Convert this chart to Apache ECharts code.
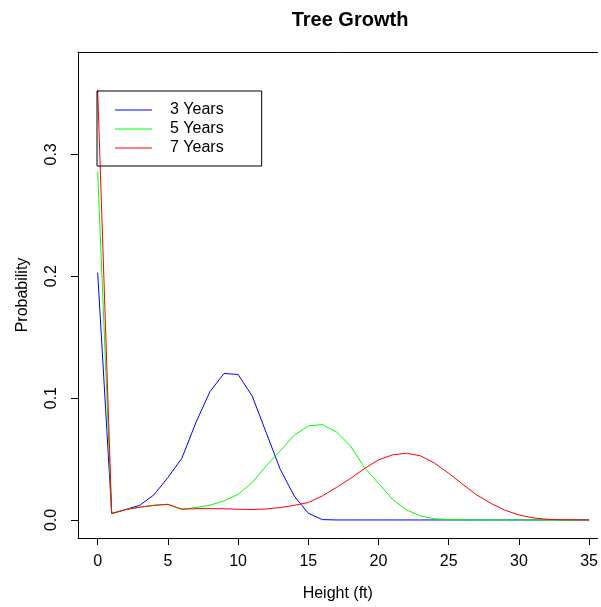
<!DOCTYPE html>
<html>
<head>
<meta charset="utf-8">
<script src="https://cdn.jsdelivr.net/npm/echarts@6/dist/echarts.min.js"></script>
<style>
html,body{margin:0;padding:0;background:#fff;}
#c{width:601px;height:607px;}
</style>
</head>
<body>
<div id="c"></div>
<script>
var heights = [0,1,2,3,4,5,6,7,8,9,10,11,12,13,14,15,16,17,18,19,20,21,22,23,24,25,26,27,28,29,30,31,32,33,34,35];
var years3 = [0.203,0.0053,0.0085,0.0121,0.0205,0.0348,0.0507,0.080,0.1054,0.1202,0.1194,0.1018,0.0718,0.0416,0.0197,0.0055,0.0003,0,0,0,0,0,0,0,0,0,0,0,0,0,0,0,0,0,0,0];
var years5 = [0.286,0.0053,0.0085,0.0105,0.012,0.0128,0.0088,0.0102,0.0121,0.0156,0.021,0.0307,0.0443,0.0567,0.0695,0.0772,0.0783,0.0723,0.0608,0.043,0.0301,0.017,0.0082,0.0033,0.0010,0.0003,0.0001,0,0,0,0,0,0,0,0,0];
var years7 = [0.353,0.0053,0.0085,0.0105,0.012,0.0128,0.0088,0.0093,0.0093,0.0092,0.0088,0.0086,0.009,0.0102,0.012,0.0143,0.0197,0.0266,0.034,0.0422,0.0493,0.0534,0.0548,0.0526,0.0466,0.0383,0.0293,0.0205,0.0137,0.008,0.0041,0.0017,0.0006,0.0002,0.0001,0];
var seriesNames = ['3 Years','5 Years','7 Years'];
var seriesColors = ['#0000FF','#00FF00','#FF0000'];
var xTicks = [0,5,10,15,20,25,30,35];
var yTicks = [0,0.1,0.2,0.3];

function pairs(vals){ return heights.map(function(h,i){ return [h, vals[i]]; }); }

var chart = echarts.init(document.getElementById('c'), null, {renderer:'canvas'});
var font = 'Liberation Sans, Arial, Helvetica, sans-serif';
chart.setOption({
  animation:false,
  backgroundColor:'#fff',
  title:{
    text:'Tree Growth', left:345, top:5, textAlign:'center',
    textStyle:{fontFamily:font, fontSize:20, fontWeight:'bold', color:'#000'}
  },
  legend:{
    orient:'vertical', left:97, top:91,
    data:seriesNames.map(function(n,i){ return {name:n, icon:'rect', itemStyle:{color:seriesColors[i], borderWidth:0}}; }),
    itemWidth:37, itemHeight:1, itemGap:3,
    itemStyle:{borderWidth:0},
    padding:[11,38,10,18],
    borderColor:'#000', borderWidth:1, borderRadius:0,
    textStyle:{fontFamily:font, fontSize:16, color:'#000', padding:[0,0,0,13]}
  },
  grid:{left:78, top:52, right:0, bottom:68, show:false, containLabel:false},
  xAxis:[{
    type:'value', min:-1.4, max:35.6, position:'bottom',
    name:'Height (ft)', nameLocation:'middle', nameGap:48,
    nameTextStyle:{fontFamily:font, fontSize:16, color:'#000'},
    axisLine:{show:true, onZero:false, lineStyle:{color:'#000', width:1}},
    axisTick:{show:true, length:7, customValues:xTicks, lineStyle:{color:'#000'}},
    axisLabel:{customValues:xTicks, margin:16, fontFamily:font, fontSize:16, color:'#000'},
    splitLine:{show:false}
  },{
    type:'value', min:-1.4, max:35.6, position:'top',
    axisLine:{show:true, onZero:false, lineStyle:{color:'#000', width:1}},
    axisTick:{show:false}, axisLabel:{show:false}, splitLine:{show:false}
  }],
  yAxis:{
    type:'value', min:-0.0148, max:0.384,
    name:'Probability', nameLocation:'middle', nameGap:47,
    nameTextStyle:{fontFamily:font, fontSize:16, color:'#000'},
    axisLine:{show:true, onZero:false, lineStyle:{color:'#000', width:1}},
    axisTick:{show:true, length:7, customValues:yTicks, lineStyle:{color:'#000'}},
    axisLabel:{customValues:yTicks, rotate:90, margin:18, fontFamily:font, fontSize:16, color:'#000',
      formatter:function(v){ return v.toFixed(1); }},
    splitLine:{show:false}
  },
  series:[
    {name:seriesNames[0], type:'line', data:pairs(years3), symbol:'none', lineStyle:{color:seriesColors[0], width:1}, itemStyle:{color:seriesColors[0]}},
    {name:seriesNames[1], type:'line', data:pairs(years5), symbol:'none', lineStyle:{color:seriesColors[1], width:1}, itemStyle:{color:seriesColors[1]}},
    {name:seriesNames[2], type:'line', data:pairs(years7), symbol:'none', lineStyle:{color:seriesColors[2], width:1}, itemStyle:{color:seriesColors[2]}}
  ]
});
</script>
</body>
</html>
